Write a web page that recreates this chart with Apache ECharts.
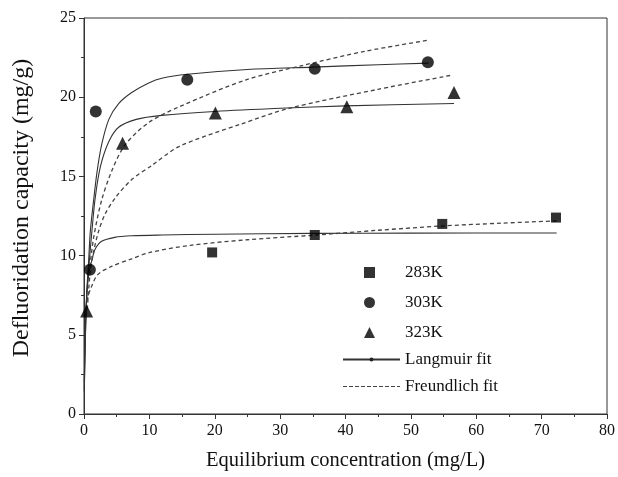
<!DOCTYPE html>
<html>
<head>
<meta charset="utf-8">
<script src="https://cdn.jsdelivr.net/npm/echarts@6/dist/echarts.min.js"></script>
<style>
  html, body { margin: 0; padding: 0; background: #fff; }
  #chart { width: 618px; height: 477px; }
</style>
</head>
<body>
<div id="chart"></div>
<script>
// measured points [concentration, capacity]
var pts283 = [[19.6, 10.2], [35.3, 11.3], [54.8, 12.0], [72.2, 12.4]];
var pts303 = [[0.9, 9.1], [1.8, 19.1], [15.8, 21.1], [35.3, 21.8], [52.6, 22.2]];
var pts323 = [[0.4, 6.5], [5.9, 17.1], [20.1, 19.0], [40.2, 19.4], [56.6, 20.3]];

// Langmuir fit curves
var lang283 = [[0.05, 2.0], [0.1, 3.4], [0.2, 5.3], [0.35, 7.0], [0.5, 8.0], [0.8, 9.0], [1.2, 9.7],
  [1.7, 10.4], [2.7, 10.9], [4.7, 11.15], [7.3, 11.25], [12, 11.3], [20, 11.35], [35, 11.4],
  [50, 11.42], [72.3, 11.43]];
var lang303 = [[0.05, 1.4], [0.1, 2.6], [0.2, 4.6], [0.35, 6.9], [0.5, 8.3], [0.7, 9.6], [0.96, 11.5],
  [1.5, 13.6], [2.0, 15.3], [2.7, 17.0], [3.8, 18.6], [5.3, 19.6], [7.3, 20.3], [9.9, 20.9],
  [11.9, 21.2], [15.8, 21.45], [25, 21.75], [35, 21.9], [45, 22.05], [52.7, 22.15]];
var lang323 = [[0.05, 1.6], [0.1, 2.9], [0.2, 4.8], [0.35, 6.8], [0.5, 8.0], [0.8, 9.6], [1.2, 11.5],
  [1.7, 13.6], [2.5, 15.6], [3.8, 17.2], [5.3, 18.1], [8, 18.6], [11.9, 18.85], [20, 19.1],
  [30, 19.3], [40, 19.45], [56.6, 19.6]];

// Freundlich fit curves
var freu283 = [[0.3, 6.7], [0.6, 7.4], [1.1, 8.0], [2.1, 8.8], [4.1, 9.3], [7.3, 9.8], [10.1, 10.2],
  [16.3, 10.65], [25, 11.0], [35.5, 11.3], [45, 11.6], [54.7, 11.87], [64, 12.05], [72.6, 12.2]];
var freu303 = [[0.9, 9.3], [1.5, 11.2], [2.7, 13.5], [4.3, 15.4], [6.3, 17.0], [9.9, 18.4],
  [14.6, 19.4], [24.8, 21.1], [33.4, 22.0], [43, 22.9], [52.7, 23.6]];
var freu323 = [[0.5, 6.6], [0.96, 9.0], [1.5, 10.3], [2.2, 11.5], [3.2, 12.6], [4.7, 13.6],
  [7.3, 14.8], [10.4, 15.7], [14.6, 16.9], [24, 18.3], [31.4, 19.3], [45, 20.5], [56.4, 21.4]];

var xTicks = [0, 10, 20, 30, 40, 50, 60, 70, 80];
var yTicks = [0, 5, 10, 15, 20, 25];

var font = 'Liberation Serif';
// dashed line shape for the Freundlich legend entry
var dashIcon = 'path://M0,0h4v1h-4zM6,0h4v1h-4zM12,0h4v1h-4zM18,0h4v1h-4zM24,0h4v1h-4zM30,0h4v1h-4zM36,0h4v1h-4zM42,0h4v1h-4zM48,0h4v1h-4zM54,0h3v1h-3z';

function fitLine(name, data, dashed) {
  return {
    name: name,
    type: 'line',
    data: data,
    smooth: 0.3,
    symbol: 'circle',
    symbolSize: 5,
    showSymbol: false,
    silent: true,
    z: 2,
    itemStyle: { color: dashed ? '#444' : '#222' },
    lineStyle: {
      color: dashed ? '#444' : '#333',
      width: dashed ? 1.3 : 1.1,
      type: dashed ? [4, 3] : 'solid'
    }
  };
}

function dots(name, data, symbol, size) {
  return {
    name: name,
    type: 'scatter',
    data: data,
    symbol: symbol,
    symbolSize: size,
    z: 5,
    itemStyle: { color: '#000' }
  };
}

var legendText = { fontFamily: font, fontSize: 17, lineHeight: 17, color: '#111' };

var chart = echarts.init(document.getElementById('chart'));
chart.setOption({
  animation: false,
  backgroundColor: '#fff',
  grid: {
    left: 84, right: 9, top: 18, bottom: 63,
    show: true, borderColor: '#333', borderWidth: 1
  },
  legend: [{
    orient: 'vertical',
    left: 359, top: 259,
    itemWidth: 11, itemHeight: 11, itemGap: 13,
    textStyle: Object.assign({ padding: [0, 0, 0, 25] }, legendText),
    data: [
      { name: '283K', icon: 'rect' },
      { name: '303K', icon: 'circle' },
      { name: '323K', icon: 'triangle' }
    ]
  }, {
    orient: 'vertical',
    left: 337, top: 346,
    itemWidth: 57, itemHeight: 5, itemGap: 10,
    textStyle: legendText,
    data: [
      { name: 'Langmuir fit' },
      { name: 'Freundlich fit', icon: dashIcon }
    ]
  }],
  xAxis: {
    type: 'value', min: xTicks[0], max: xTicks[xTicks.length - 1], interval: 10,
    name: 'Equilibrium concentration (mg/L)', nameLocation: 'middle', nameGap: 36,
    nameTextStyle: { fontFamily: font, fontSize: 20.5, color: '#111' },
    axisLine: { lineStyle: { color: '#333', width: 1 } },
    axisTick: { length: 5, lineStyle: { color: '#333' } },
    minorTick: { show: true, splitNumber: 2, length: 3, lineStyle: { color: '#333' } },
    splitLine: { show: false },
    axisLabel: { fontFamily: font, fontSize: 16, color: '#111', margin: 9 }
  },
  yAxis: {
    type: 'value', min: yTicks[0], max: yTicks[yTicks.length - 1], interval: 5,
    name: 'Defluoridation capacity (mg/g)', nameLocation: 'middle', nameGap: 50,
    nameTextStyle: { fontFamily: font, fontSize: 24, color: '#111', padding: [0, 0, 0, 16] },
    axisLine: { show: true, lineStyle: { color: '#333', width: 1 } },
    axisTick: { show: true, length: 5, lineStyle: { color: '#333' } },
    minorTick: { show: true, splitNumber: 2, length: 3, lineStyle: { color: '#333' } },
    splitLine: { show: false },
    axisLabel: { fontFamily: font, fontSize: 16, color: '#111', margin: 8 }
  },
  series: [
    fitLine('Langmuir fit', lang283, false),
    fitLine('Langmuir fit', lang303, false),
    fitLine('Langmuir fit', lang323, false),
    fitLine('Freundlich fit', freu283, true),
    fitLine('Freundlich fit', freu303, true),
    fitLine('Freundlich fit', freu323, true),
    dots('283K', pts283, 'rect', 10),
    dots('303K', pts303, 'circle', 12),
    dots('323K', pts323, 'triangle', 13)
  ]
});
</script>
</body>
</html>
